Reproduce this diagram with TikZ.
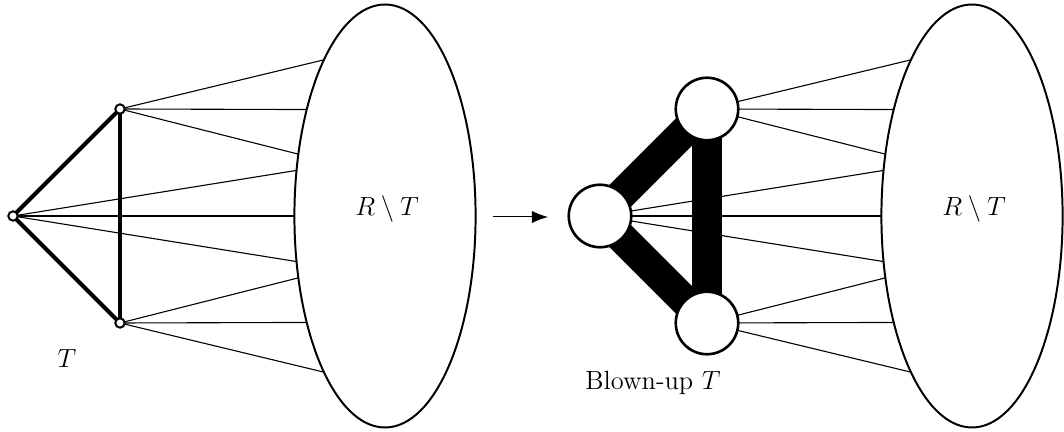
\documentclass[tikz,border=0pt]{standalone}
\usetikzlibrary{calc,shapes.geometric,arrows.meta}
\begin{document}
\begin{tikzpicture}[x=0.016cm,y=-0.016cm,
  ell/.style={draw, ellipse, line width=0.9pt, minimum width=2.9cm, minimum height=6.77cm, inner sep=0pt},
  smallv/.style={circle, draw, fill=white, line width=0.9pt, minimum size=0.15cm, inner sep=0pt},
  bigv/.style={circle, draw, fill=white, line width=1.2pt, minimum size=1cm, inner sep=0pt},
  lbl/.style={font=\large, inner sep=0pt},
  spoke/.style={line width=0.5pt},
  tedge/.style={line width=1.8pt},
  bedge/.style={line width=14pt},
  arr/.style={line width=0.45pt, -{Latex[length=2.6mm,width=2mm]}}]
\useasboundingbox (0,0) rectangle (1064,432);
% ellipses
\node[ell] (EL) at (385,216) {};
\node[ell] (ER) at (972,216) {};
\node[lbl] (tL) at (387,209) {$R\setminus T$};
\node[lbl] (tR) at (974,209) {$R\setminus T$};
% points on ellipses
\foreach \i/\a in {1/227.8,2/210.3,3/197,4/192.5,5/180,6/167.5,7/163,8/149.7,9/132.2}{
  \coordinate (L\i) at ($(EL.center)+(\a:90 and 211)$);
  \coordinate (R\i) at ($(ER.center)+(\a:90 and 211)$);
}
% vertex positions
\coordinate (pa) at (13,216);
\coordinate (pt) at (120,109);
\coordinate (pb) at (120,323);
\coordinate (qa) at (600,216);
\coordinate (qt) at (707,109);
\coordinate (qb) at (707,323);
% spokes
\foreach \i/\v in {1/t,2/t,3/t,4/a,5/a,6/a,7/b,8/b,9/b}{
  \draw[spoke] (p\v) -- (L\i);
  \draw[spoke] (q\v) -- (R\i);
}
% triangle edges
\draw[tedge] (pa) -- (pt) -- (pb) -- cycle;
\draw[bedge] (qa) -- (qt);
\draw[bedge] (qt) -- (qb);
\draw[bedge] (qb) -- (qa);
% vertices
\node[smallv] (va) at (pa) {};
\node[smallv] (vt) at (pt) {};
\node[smallv] (vb) at (pb) {};
\node[bigv] (wa) at (qa) {};
\node[bigv] (wt) at (qt) {};
\node[bigv] (wb) at (qb) {};
% labels
\node[lbl] (lT) at (67,359) {$T$};
\node[lbl] (lB) at (653,383) {Blown-up $T$};
% arrow
\coordinate (as) at (493,217);
\coordinate (ae) at (548,217);
\draw[arr] (as) -- (ae);
\end{tikzpicture}
\end{document}
